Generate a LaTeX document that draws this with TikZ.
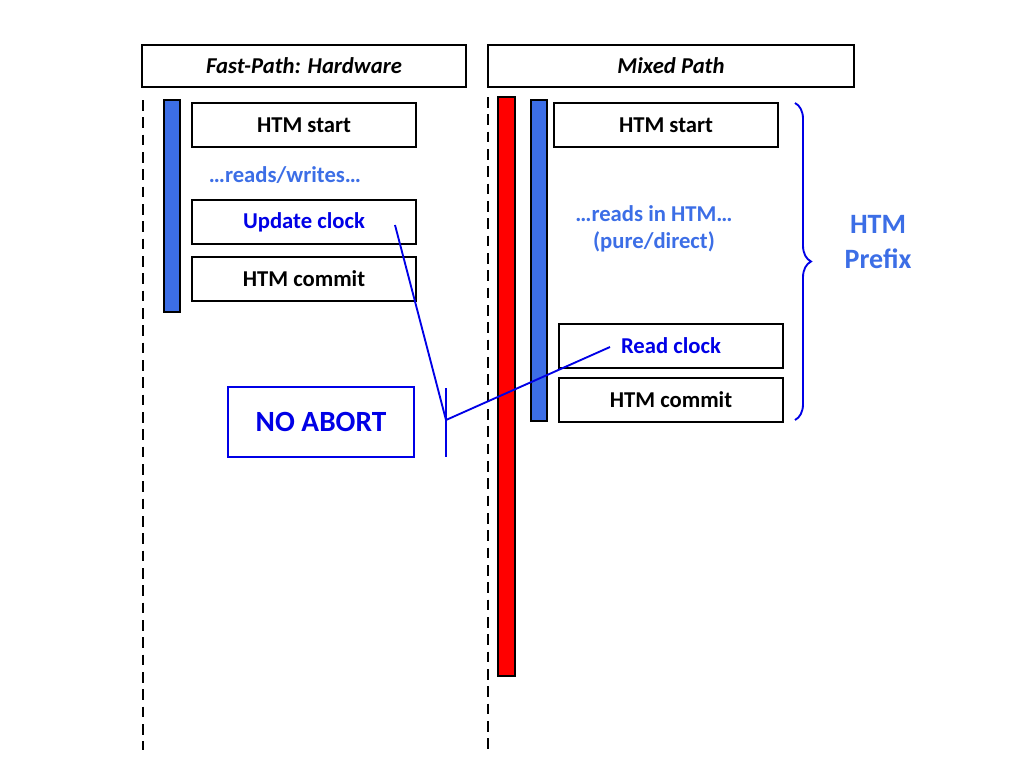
\documentclass[tikz,border=0pt]{standalone}
\usepackage{fontspec}
\setmainfont{Carlito}
\usetikzlibrary{decorations.pathreplacing}
\definecolor{bbar}{RGB}{60,110,230}
\definecolor{btxt}{RGB}{0,0,230}
\definecolor{ltxt}{RGB}{60,110,230}
\begin{document}
\begin{tikzpicture}[x=0.75pt,y=-0.75pt,
 box/.style={draw=black,line width=1.4pt,minimum width=168pt,minimum height=33pt,inner sep=0pt,font=\fontsize{17}{20}\selectfont\bfseries},
 hdr/.style={draw=black,line width=1.4pt,inner sep=0pt,font=\fontsize{17}{20}\selectfont\bfseries\itshape},
 bar/.style={draw=black,line width=1pt},
 dashln/.style={draw=black,line width=1.4pt,dash pattern=on 8pt off 5pt},
 conn/.style={draw=btxt,line width=1.4pt}]
\useasboundingbox (0,0) rectangle (1024,768);
\node[hdr,minimum width=243pt,minimum height=32pt] (h1) at (304,66) {Fast-Path: Hardware};
\node[hdr,minimum width=274pt,minimum height=32pt] (h2) at (671,66) {Mixed Path};
\draw[dashln] (143,100) -- (143,750);
\draw[dashln] (488,97) -- (488,755);
\draw[bar,fill=bbar] (164,100) rectangle (180,312);
\node[box] (s1) at (304,125) {HTM start};
\node[text=ltxt,font=\fontsize{17}{20}\selectfont\bfseries] (rw) at (285,175) {…reads/writes…};
\node[box,text=btxt] (uc) at (304,222) {Update clock};
\node[box] (c1) at (304,279) {HTM commit};
\node[draw=btxt,line width=1.6pt,minimum width=139pt,minimum height=52pt,text=btxt,font=\fontsize{22}{26}\selectfont\bfseries] (na) at (321,422) {NO ABORT};
\draw[bar,fill=red] (498,97) rectangle (515,676);
\draw[bar,fill=bbar] (531,100) rectangle (547,421);
\node[box] (s2) at (666,125) {HTM start};
\node[text=ltxt,font=\fontsize{17}{20}\selectfont\bfseries,align=center] (rh) at (654,229) {…reads in HTM…\\(pure/direct)};
\node[box,text=btxt] (rc) at (671,346) {Read clock};
\node[box] (c2) at (671,400) {HTM commit};
\draw[btxt,line width=1.4pt,decorate,decoration={brace,amplitude=12pt,aspect=0.5}] (795,103) -- (795,420);
\node[text=ltxt,font=\fontsize{21}{26}\selectfont\bfseries,align=center] (hp) at (878,242) {HTM\\Prefix};
\coordinate (j) at (446,420);
\coordinate (jt) at (446,388);
\coordinate (jb) at (446,457);
\coordinate (ucp) at (395,225);
\coordinate (rcp) at (610,347);
\draw[conn] (ucp) -- (j) -- (rcp);
\draw[conn] (jt) -- (jb);
\end{tikzpicture}
\end{document}
